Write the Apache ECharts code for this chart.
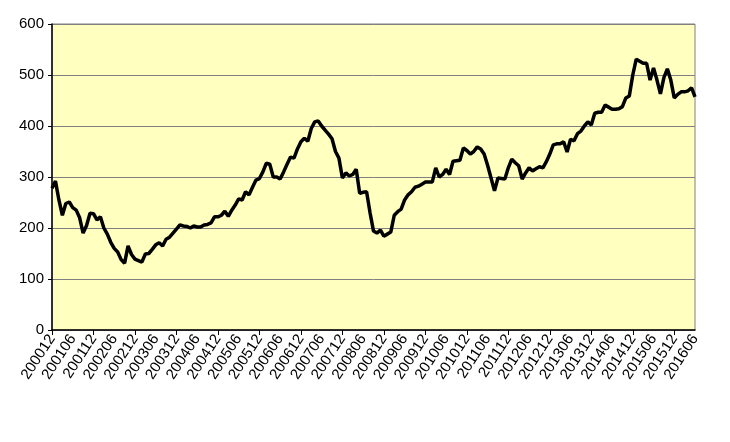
<!DOCTYPE html>
<html>
<head>
<meta charset="utf-8">
<script src="https://cdn.jsdelivr.net/npm/echarts@6/dist/echarts.min.js"></script>
<style>html,body{margin:0;background:#fff}</style>
</head>
<body>
<div id="chart" style="width:730px;height:442px"></div>
<script>
// monthly index values, 200012 .. 201606
const startYear = 2000, startMonth = 12;
const values = [
  278, 292, 255, 225, 248, 251, 240, 235, 220, 190, 205, 229,
  228, 216, 222, 200, 188, 172, 160, 153, 138, 131, 165, 148,
  139, 136, 133, 149, 150, 158, 167, 171, 165, 178, 182, 190,
  198, 206, 204, 203, 200, 204, 202, 202, 206, 207, 210, 222,
  222, 225, 233, 223, 235, 245, 257, 255, 271, 265, 280, 294,
  297, 310, 327, 325, 300, 300, 296, 310, 325, 339, 337, 355,
  369, 376, 370, 395, 408, 410, 400, 392, 384, 375, 350, 337,
  298, 308, 302, 305, 315, 268, 270, 271, 230, 194, 190, 196,
  184, 188, 192, 225, 232, 237, 255, 265, 271, 280, 282, 286,
  290, 290, 290, 318, 300, 305, 315, 305, 331, 332, 333, 357,
  352, 345, 350, 359, 355, 345, 323, 298, 273, 298, 297, 296,
  318, 335, 328, 322, 296, 308, 318, 312, 316, 320, 318, 330,
  345, 363, 365, 365, 369, 349, 374, 371, 385, 390, 400, 408,
  402, 425, 427, 427, 441, 437, 433, 433, 434, 438, 455, 459,
  500, 531, 527, 523, 523, 490, 514, 490, 463, 495, 512, 490,
  455, 462, 467, 467, 469, 475, 457
];
const yTicks = [0, 100, 200, 300, 400, 500, 600];

const categories = [];
for (let i = 0; i < values.length; i++) {
  const n = startYear * 12 + (startMonth - 1) + i;
  const y = Math.floor(n / 12), m = n % 12 + 1;
  categories.push(y + (m < 10 ? '0' : '') + m);
}

const chart = echarts.init(document.getElementById('chart'));
chart.setOption({
  animation: false,
  grid: {
    left: 52, right: 35, top: 24, bottom: 112,
    show: true,
    backgroundColor: '#FFFFC0',
    borderColor: '#808080',
    borderWidth: 1
  },
  xAxis: {
    type: 'category',
    data: categories,
    boundaryGap: false,
    axisLine: { lineStyle: { color: '#000', width: 1.5 } },
    axisTick: { show: true, interval: 11, length: 5, lineStyle: { color: '#000' } },
    axisLabel: {
      interval: 5,
      rotate: 57,
      color: '#000',
      fontSize: 15,
      fontFamily: 'Liberation Sans, Arial',
      margin: 6
    },
    splitLine: { show: false }
  },
  yAxis: {
    type: 'value',
    min: yTicks[0],
    max: yTicks[yTicks.length - 1],
    interval: 100,
    axisLine: { show: true, lineStyle: { color: '#000', width: 1.5 } },
    axisTick: { show: true, length: 4, lineStyle: { color: '#000' } },
    axisLabel: { color: '#000', fontSize: 15, fontFamily: 'Liberation Sans, Arial', margin: 8 },
    splitLine: { lineStyle: { color: '#808080', width: 1 } }
  },
  series: [{
    type: 'line',
    data: values,
    showSymbol: false,
    lineStyle: { color: '#000', width: 3.5 }
  }]
});
</script>
</body>
</html>
